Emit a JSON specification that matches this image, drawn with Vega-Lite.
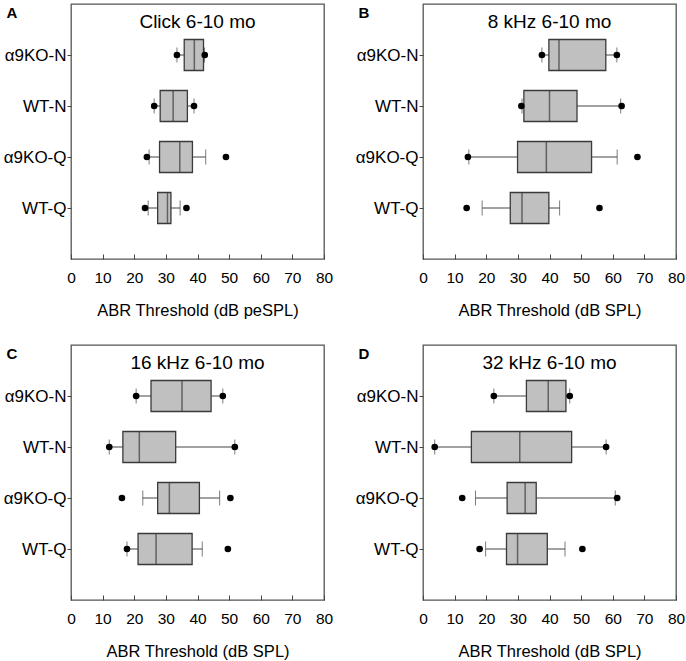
{
  "$schema": "https://vega.github.io/schema/vega-lite/v6.json",
  "padding": {"left": 2, "top": 3, "right": 0, "bottom": 0},
  "datasets": {
    "stats": [
      {"panel": "A", "group": "α9KO-N", "lo": 33.5, "q1": 35.8, "med": 39, "q3": 41.9, "hi": 42.2},
      {"panel": "A", "group": "WT-N", "lo": 26.3, "q1": 28.2, "med": 32.3, "q3": 36.8, "hi": 38.9},
      {"panel": "A", "group": "α9KO-Q", "lo": 24.7, "q1": 28, "med": 34.4, "q3": 38.4, "hi": 42.6},
      {"panel": "A", "group": "WT-Q", "lo": 24.4, "q1": 27.4, "med": 30.5, "q3": 31.6, "hi": 34.5},
      {"panel": "B", "group": "α9KO-N", "lo": 37.6, "q1": 39.8, "med": 43, "q3": 57.8, "hi": 61.3},
      {"panel": "B", "group": "WT-N", "lo": 31.3, "q1": 31.9, "med": 40, "q3": 48.7, "hi": 62.5},
      {"panel": "B", "group": "α9KO-Q", "lo": 14.5, "q1": 29.9, "med": 39, "q3": 53.3, "hi": 61.4},
      {"panel": "B", "group": "WT-Q", "lo": 18.7, "q1": 27.6, "med": 31.3, "q3": 39.8, "hi": 43.2},
      {"panel": "C", "group": "α9KO-N", "lo": 20.6, "q1": 25.3, "med": 35.1, "q3": 44.3, "hi": 48},
      {"panel": "C", "group": "WT-N", "lo": 12.1, "q1": 16.4, "med": 21.6, "q3": 33.1, "hi": 51.8},
      {"panel": "C", "group": "α9KO-Q", "lo": 22.7, "q1": 27.4, "med": 31.1, "q3": 40.6, "hi": 47},
      {"panel": "C", "group": "WT-Q", "lo": 17.7, "q1": 21.2, "med": 26.9, "q3": 38.3, "hi": 41.5},
      {"panel": "D", "group": "α9KO-N", "lo": 22.4, "q1": 32.7, "med": 39.6, "q3": 45.2, "hi": 46.4},
      {"panel": "D", "group": "WT-N", "lo": 3.7, "q1": 15.3, "med": 30.6, "q3": 47, "hi": 57.9},
      {"panel": "D", "group": "α9KO-Q", "lo": 16.6, "q1": 26.6, "med": 32.3, "q3": 35.8, "hi": 60.8},
      {"panel": "D", "group": "WT-Q", "lo": 19.8, "q1": 26.4, "med": 29.9, "q3": 39.3, "hi": 44.9}
    ],
    "pts": [
      {"panel": "A", "group": "α9KO-N", "value": 33.5},
      {"panel": "A", "group": "α9KO-N", "value": 42.3},
      {"panel": "A", "group": "WT-N", "value": 26.3},
      {"panel": "A", "group": "WT-N", "value": 38.9},
      {"panel": "A", "group": "α9KO-Q", "value": 24},
      {"panel": "A", "group": "α9KO-Q", "value": 49},
      {"panel": "A", "group": "WT-Q", "value": 23.4},
      {"panel": "A", "group": "WT-Q", "value": 36.5},
      {"panel": "B", "group": "α9KO-N", "value": 37.6},
      {"panel": "B", "group": "α9KO-N", "value": 61.3},
      {"panel": "B", "group": "WT-N", "value": 31.1},
      {"panel": "B", "group": "WT-N", "value": 62.8},
      {"panel": "B", "group": "α9KO-Q", "value": 14.2},
      {"panel": "B", "group": "α9KO-Q", "value": 67.8},
      {"panel": "B", "group": "WT-Q", "value": 13.8},
      {"panel": "B", "group": "WT-Q", "value": 55.8},
      {"panel": "C", "group": "α9KO-N", "value": 20.6},
      {"panel": "C", "group": "α9KO-N", "value": 48},
      {"panel": "C", "group": "WT-N", "value": 12.1},
      {"panel": "C", "group": "WT-N", "value": 51.8},
      {"panel": "C", "group": "α9KO-Q", "value": 16.1},
      {"panel": "C", "group": "α9KO-Q", "value": 50.4},
      {"panel": "C", "group": "WT-Q", "value": 17.7},
      {"panel": "C", "group": "WT-Q", "value": 49.6},
      {"panel": "D", "group": "α9KO-N", "value": 22.4},
      {"panel": "D", "group": "α9KO-N", "value": 46.4},
      {"panel": "D", "group": "WT-N", "value": 3.7},
      {"panel": "D", "group": "WT-N", "value": 57.9},
      {"panel": "D", "group": "α9KO-Q", "value": 12.4},
      {"panel": "D", "group": "α9KO-Q", "value": 61.4},
      {"panel": "D", "group": "WT-Q", "value": 17.9},
      {"panel": "D", "group": "WT-Q", "value": 50.4}
    ]
  },
  "spacing": 24,
  "vconcat": [
    {
      "spacing": 20,
      "hconcat": [
        {
          "width": 253, "height": 255,
          "title": {"text": "Click 6-10 mo"},
          "encoding": {"y": {"field": "group", "type": "nominal", "scale": {"type": "point", "domain": ["α9KO-N", "WT-N", "α9KO-Q", "WT-Q"], "padding": 1}, "axis": {"title": "A"}}},
          "layer": [
            {"data": {"name": "stats"}, "transform": [{"filter": "datum.panel === 'A'"}], "mark": {"type": "rule", "color": "#444", "strokeWidth": 1},
             "encoding": {"x": {"field": "lo", "type": "quantitative", "title": "ABR Threshold (dB peSPL)", "scale": {"domain": [0, 80], "nice": false, "zero": false}}, "x2": {"field": "hi"}}},
            {"data": {"name": "stats"}, "transform": [{"filter": "datum.panel === 'A'"}], "mark": {"type": "tick", "color": "#444", "size": 15, "thickness": 1},
             "encoding": {"x": {"field": "lo", "type": "quantitative", "title": "ABR Threshold (dB peSPL)"}}},
            {"data": {"name": "stats"}, "transform": [{"filter": "datum.panel === 'A'"}], "mark": {"type": "tick", "color": "#444", "size": 15, "thickness": 1},
             "encoding": {"x": {"field": "hi", "type": "quantitative", "title": "ABR Threshold (dB peSPL)"}}},
            {"data": {"name": "stats"}, "transform": [{"filter": "datum.panel === 'A'"}], "mark": {"type": "bar", "size": 31, "fill": "#c0c0c0", "stroke": "#3a3a3a", "strokeWidth": 1.3},
             "encoding": {"x": {"field": "q1", "type": "quantitative", "title": "ABR Threshold (dB peSPL)"}, "x2": {"field": "q3"}}},
            {"data": {"name": "stats"}, "transform": [{"filter": "datum.panel === 'A'"}], "mark": {"type": "tick", "color": "#3a3a3a", "size": 31, "thickness": 1.5},
             "encoding": {"x": {"field": "med", "type": "quantitative", "title": "ABR Threshold (dB peSPL)"}}},
            {"data": {"name": "pts"}, "transform": [{"filter": "datum.panel === 'A'"}], "mark": {"type": "circle", "color": "#000", "size": 44, "opacity": 1},
             "encoding": {"x": {"field": "value", "type": "quantitative", "title": "ABR Threshold (dB peSPL)"}}}
          ]
        },
        {
          "width": 253, "height": 255,
          "title": {"text": "8 kHz 6-10 mo"},
          "encoding": {"y": {"field": "group", "type": "nominal", "scale": {"type": "point", "domain": ["α9KO-N", "WT-N", "α9KO-Q", "WT-Q"], "padding": 1}, "axis": {"title": "B"}}},
          "layer": [
            {"data": {"name": "stats"}, "transform": [{"filter": "datum.panel === 'B'"}], "mark": {"type": "rule", "color": "#444", "strokeWidth": 1},
             "encoding": {"x": {"field": "lo", "type": "quantitative", "title": "ABR Threshold (dB SPL)", "scale": {"domain": [0, 80], "nice": false, "zero": false}}, "x2": {"field": "hi"}}},
            {"data": {"name": "stats"}, "transform": [{"filter": "datum.panel === 'B'"}], "mark": {"type": "tick", "color": "#444", "size": 15, "thickness": 1},
             "encoding": {"x": {"field": "lo", "type": "quantitative", "title": "ABR Threshold (dB SPL)"}}},
            {"data": {"name": "stats"}, "transform": [{"filter": "datum.panel === 'B'"}], "mark": {"type": "tick", "color": "#444", "size": 15, "thickness": 1},
             "encoding": {"x": {"field": "hi", "type": "quantitative", "title": "ABR Threshold (dB SPL)"}}},
            {"data": {"name": "stats"}, "transform": [{"filter": "datum.panel === 'B'"}], "mark": {"type": "bar", "size": 31, "fill": "#c0c0c0", "stroke": "#3a3a3a", "strokeWidth": 1.3},
             "encoding": {"x": {"field": "q1", "type": "quantitative", "title": "ABR Threshold (dB SPL)"}, "x2": {"field": "q3"}}},
            {"data": {"name": "stats"}, "transform": [{"filter": "datum.panel === 'B'"}], "mark": {"type": "tick", "color": "#3a3a3a", "size": 31, "thickness": 1.5},
             "encoding": {"x": {"field": "med", "type": "quantitative", "title": "ABR Threshold (dB SPL)"}}},
            {"data": {"name": "pts"}, "transform": [{"filter": "datum.panel === 'B'"}], "mark": {"type": "circle", "color": "#000", "size": 44, "opacity": 1},
             "encoding": {"x": {"field": "value", "type": "quantitative", "title": "ABR Threshold (dB SPL)"}}}
          ]
        }
      ]
    },
    {
      "spacing": 20,
      "hconcat": [
        {
          "width": 253, "height": 255,
          "title": {"text": "16 kHz 6-10 mo"},
          "encoding": {"y": {"field": "group", "type": "nominal", "scale": {"type": "point", "domain": ["α9KO-N", "WT-N", "α9KO-Q", "WT-Q"], "padding": 1}, "axis": {"title": "C"}}},
          "layer": [
            {"data": {"name": "stats"}, "transform": [{"filter": "datum.panel === 'C'"}], "mark": {"type": "rule", "color": "#444", "strokeWidth": 1},
             "encoding": {"x": {"field": "lo", "type": "quantitative", "title": "ABR Threshold (dB SPL)", "scale": {"domain": [0, 80], "nice": false, "zero": false}}, "x2": {"field": "hi"}}},
            {"data": {"name": "stats"}, "transform": [{"filter": "datum.panel === 'C'"}], "mark": {"type": "tick", "color": "#444", "size": 15, "thickness": 1},
             "encoding": {"x": {"field": "lo", "type": "quantitative", "title": "ABR Threshold (dB SPL)"}}},
            {"data": {"name": "stats"}, "transform": [{"filter": "datum.panel === 'C'"}], "mark": {"type": "tick", "color": "#444", "size": 15, "thickness": 1},
             "encoding": {"x": {"field": "hi", "type": "quantitative", "title": "ABR Threshold (dB SPL)"}}},
            {"data": {"name": "stats"}, "transform": [{"filter": "datum.panel === 'C'"}], "mark": {"type": "bar", "size": 31, "fill": "#c0c0c0", "stroke": "#3a3a3a", "strokeWidth": 1.3},
             "encoding": {"x": {"field": "q1", "type": "quantitative", "title": "ABR Threshold (dB SPL)"}, "x2": {"field": "q3"}}},
            {"data": {"name": "stats"}, "transform": [{"filter": "datum.panel === 'C'"}], "mark": {"type": "tick", "color": "#3a3a3a", "size": 31, "thickness": 1.5},
             "encoding": {"x": {"field": "med", "type": "quantitative", "title": "ABR Threshold (dB SPL)"}}},
            {"data": {"name": "pts"}, "transform": [{"filter": "datum.panel === 'C'"}], "mark": {"type": "circle", "color": "#000", "size": 44, "opacity": 1},
             "encoding": {"x": {"field": "value", "type": "quantitative", "title": "ABR Threshold (dB SPL)"}}}
          ]
        },
        {
          "width": 253, "height": 255,
          "title": {"text": "32 kHz 6-10 mo"},
          "encoding": {"y": {"field": "group", "type": "nominal", "scale": {"type": "point", "domain": ["α9KO-N", "WT-N", "α9KO-Q", "WT-Q"], "padding": 1}, "axis": {"title": "D"}}},
          "layer": [
            {"data": {"name": "stats"}, "transform": [{"filter": "datum.panel === 'D'"}], "mark": {"type": "rule", "color": "#444", "strokeWidth": 1},
             "encoding": {"x": {"field": "lo", "type": "quantitative", "title": "ABR Threshold (dB SPL)", "scale": {"domain": [0, 80], "nice": false, "zero": false}}, "x2": {"field": "hi"}}},
            {"data": {"name": "stats"}, "transform": [{"filter": "datum.panel === 'D'"}], "mark": {"type": "tick", "color": "#444", "size": 15, "thickness": 1},
             "encoding": {"x": {"field": "lo", "type": "quantitative", "title": "ABR Threshold (dB SPL)"}}},
            {"data": {"name": "stats"}, "transform": [{"filter": "datum.panel === 'D'"}], "mark": {"type": "tick", "color": "#444", "size": 15, "thickness": 1},
             "encoding": {"x": {"field": "hi", "type": "quantitative", "title": "ABR Threshold (dB SPL)"}}},
            {"data": {"name": "stats"}, "transform": [{"filter": "datum.panel === 'D'"}], "mark": {"type": "bar", "size": 31, "fill": "#c0c0c0", "stroke": "#3a3a3a", "strokeWidth": 1.3},
             "encoding": {"x": {"field": "q1", "type": "quantitative", "title": "ABR Threshold (dB SPL)"}, "x2": {"field": "q3"}}},
            {"data": {"name": "stats"}, "transform": [{"filter": "datum.panel === 'D'"}], "mark": {"type": "tick", "color": "#3a3a3a", "size": 31, "thickness": 1.5},
             "encoding": {"x": {"field": "med", "type": "quantitative", "title": "ABR Threshold (dB SPL)"}}},
            {"data": {"name": "pts"}, "transform": [{"filter": "datum.panel === 'D'"}], "mark": {"type": "circle", "color": "#000", "size": 44, "opacity": 1},
             "encoding": {"x": {"field": "value", "type": "quantitative", "title": "ABR Threshold (dB SPL)"}}}
          ]
        }
      ]
    }
  ],
  "config": {
    "font": "Liberation Sans",
    "background": "white",
    "view": {"stroke": "#555", "strokeWidth": 1.3},
    "title": {"frame": "group", "anchor": "middle", "offset": -28, "baseline": "bottom", "fontSize": 19, "fontWeight": "normal", "color": "#000"},
    "axisX": {"values": [0, 10, 20, 30, 40, 50, 60, 70, 80], "tickSize": -5, "tickColor": "#444", "grid": false, "domain": false, "labelFontSize": 15.5, "labelColor": "#000", "labelPadding": 16, "labelFlush": false, "titleFontSize": 16.5, "titleFontWeight": "normal", "titleColor": "#000", "titlePadding": 17},
    "axisY": {"tickSize": 4, "tickColor": "#444", "grid": false, "domain": false, "labelFontSize": 17, "labelColor": "#000", "labelPadding": 1, "titleAngle": 0, "titleAlign": "left", "titleBaseline": "top", "titleX": -65, "titleY": 1, "titleFontSize": 15, "titleFontWeight": "bold", "titleColor": "#000"}
  }
}
